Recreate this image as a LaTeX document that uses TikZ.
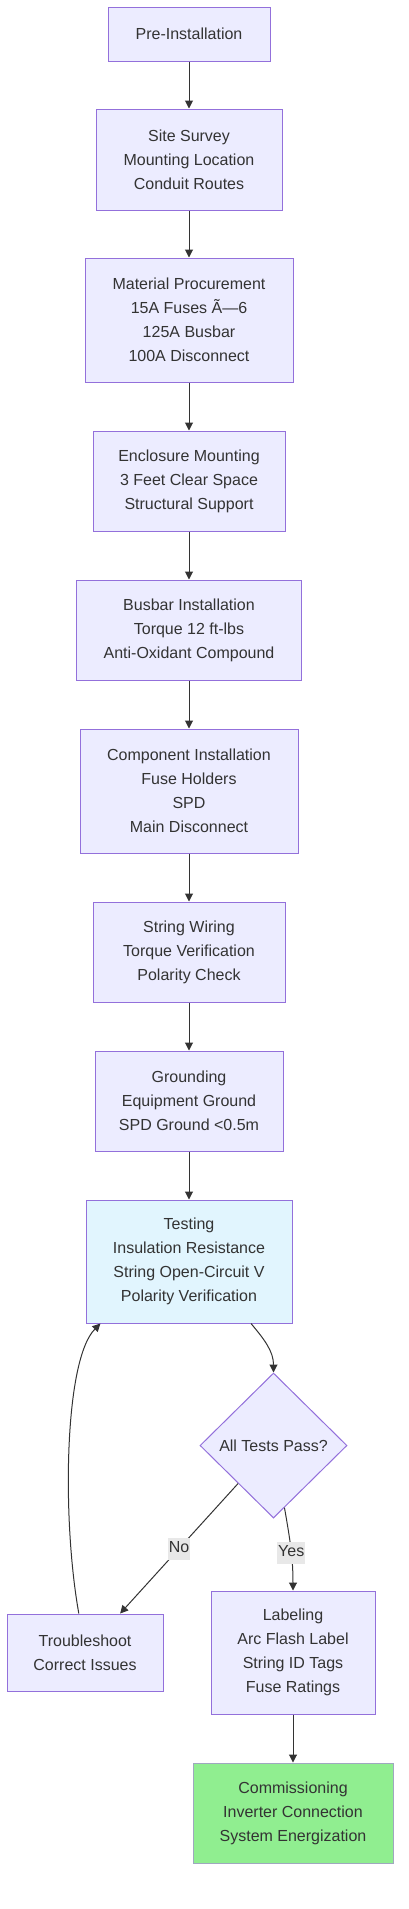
\documentclass[tikz,border=0pt]{standalone}
\usepackage{fontspec}
\setmainfont{Liberation Sans}
\usepackage{tikz}
\usetikzlibrary{positioning, arrows.meta, shapes.geometric}

\definecolor{boxfill}{HTML}{ECECFF}
\definecolor{boxline}{HTML}{9370DB}
\definecolor{testfill}{HTML}{E1F5FE}
\definecolor{donefill}{HTML}{90EE90}
\definecolor{doneline}{HTML}{9FA8BF}
\definecolor{ink}{HTML}{333333}
\definecolor{tagfill}{HTML}{E8E8E8}

\begin{document}
\begin{tikzpicture}[x=1pt, y=1pt,
  stage/.style={draw=boxline, fill=boxfill, line width=1pt, text=ink, align=center, inner sep=0pt, font=\fontsize{16}{24}\selectfont},
  check/.style={stage, diamond, aspect=1},
  flow/.style={draw=ink, line width=1pt, -{Triangle[length=8pt, width=8pt]}},
  tag/.style={fill=tagfill, text=ink, inner xsep=1pt, inner ysep=3pt, text height=12pt, text depth=4pt, font=\fontsize{16}{20}\selectfont}]
\useasboundingbox (0, 0) rectangle (409, -1909);

\node[stage, minimum width=162, minimum height=54] (pre) at (189, -34){Pre-Installation};
\node[stage, minimum width=186, minimum height=101] (survey) at (189, -159.5){Site Survey\\Mounting Location\\Conduit Routes};
\node[stage, minimum width=208, minimum height=124] (procure) at (189, -320){Material Procurement\\15A Fuses Ã—6\\125A Busbar\\100A Disconnect};
\node[stage, minimum width=192, minimum height=100] (enclosure) at (189, -481){Enclosure Mounting\\3 Feet Clear Space\\Structural Support};
\node[stage, minimum width=225, minimum height=100] (busbar) at (189, -630){Busbar Installation\\Torque 12 ft-lbs\\Anti-Oxidant Compound};
\node[stage, minimum width=218, minimum height=124] (component) at (189, -791){Component Installation\\Fuse Holders\\SPD\\Main Disconnect};
\node[stage, minimum width=192, minimum height=100] (wiring) at (189, -952){String Wiring\\Torque Verification\\Polarity Check};
\node[stage, minimum width=188, minimum height=100] (ground) at (189, -1101){Grounding\\Equipment Ground\\SPD Ground <0.5m};
\node[stage, fill=testfill, minimum width=206, minimum height=123] (testing) at (189, -1261.5){Testing\\Insulation Resistance\\String Open-Circuit V\\Polarity Verification};
\node[check, minimum width=147, minimum height=145] (pass) at (273.5, -1445.5){All Tests Pass?};
\node[stage, minimum width=156, minimum height=77] (trouble) at (85, -1652.5){Troubleshoot\\Correct Issues};
\node[stage, minimum width=164, minimum height=123] (labeling) at (293, -1652.5){Labeling\\Arc Flash Label\\String ID Tags\\Fuse Ratings};
\node[stage, fill=donefill, draw=doneline, minimum width=200, minimum height=100] (commission) at (293, -1813){Commissioning\\Inverter Connection\\System Energization};

\draw[flow] (pre) -- (survey);
\draw[flow] (survey) -- (procure);
\draw[flow] (procure) -- (enclosure);
\draw[flow] (enclosure) -- (busbar);
\draw[flow] (busbar) -- (component);
\draw[flow] (component) -- (wiring);
\draw[flow] (wiring) -- (ground);
\draw[flow] (ground) -- (testing);
\draw[flow] (testing.-45) to[out=-50, in=90] (pass.north);
\draw[flow] (pass.-133) -- node[tag]{No} (trouble.48);
\draw[flow] (pass.-80) to[out=-80, in=90] node[tag, pos=0.55]{Yes} (labeling.north);
\draw[flow] (trouble.99) .. controls (62, -1520) and (64, -1360) .. (testing.-145);
\draw[flow] (labeling) -- (commission);
\end{tikzpicture}
\end{document}
